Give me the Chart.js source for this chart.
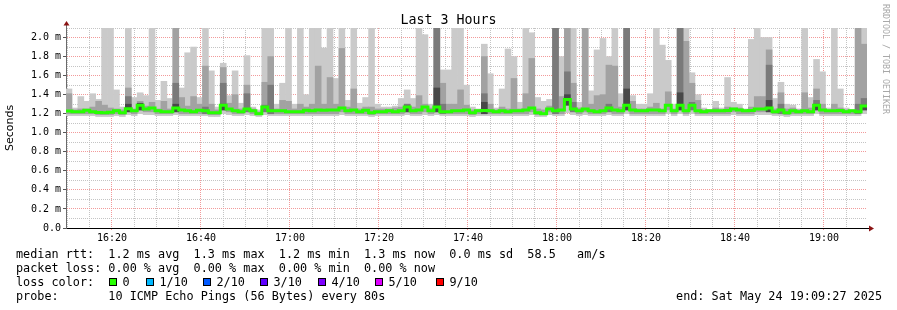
<!DOCTYPE html>
<html>
<head>
<meta charset="utf-8">
<title>Last 3 Hours</title>
<script src="https://cdn.jsdelivr.net/npm/chart.js@4.4.1/dist/chart.umd.min.js"></script>
<style>
    html, body { margin: 0; padding: 0; background: #fff; }
    #wrap { position: relative; width: 897px; height: 310px; overflow: hidden; font-family: 'DejaVu Sans Mono', monospace; color: #000; }
    #pingChart { position: absolute; left: 0; top: 0; }
    .txt { position: absolute; white-space: pre; font-size: 11.8px; line-height: 14px; }
    #title { position: absolute; left: 0; top: 12px; width: 897px; text-align: center; font-size: 13.3px; line-height: 16px; }
    #credit { position: absolute; left: 881px; top: 4px; writing-mode: vertical-rl; font-size: 8.3px; color: #a8a8a8; white-space: pre; }
    .swatch { position: absolute; width: 8px; height: 8px; box-sizing: border-box; border: 1px solid #000; }
</style>
</head>
<body>
<div id="wrap">
    <canvas id="pingChart" width="897" height="310"></canvas>
    <div id="title">Last 3 Hours</div>
    <div id="credit">RRDTOOL / TOBI OETIKER</div>
    <div class="txt" style="left:16px;top:247px">median rtt:  1.2 ms avg  1.3 ms max  1.2 ms min  1.3 ms now  0.0 ms sd  58.5   am/s</div>
    <div class="txt" style="left:16px;top:261px">packet loss: 0.00 % avg  0.00 % max  0.00 % min  0.00 % now</div>
    <div class="txt" style="left:16px;top:275px">loss color:</div>
    <div id="lossLegend"></div>
    <div class="txt" style="left:16px;top:289px">probe:       10 ICMP Echo Pings (56 Bytes) every 80s</div>
    <div class="txt" style="right:15px;top:289px">end: Sat May 24 19:09:27 2025</div>
</div>
<script>
'use strict';

// 135 samples, 80 s apart, starting 16:09:40 (values in ms)
const median = [
    1.228, 1.22, 1.22, 1.236, 1.22, 1.214, 1.21, 1.215, 1.23, 1.21,
    1.253, 1.23, 1.29, 1.25, 1.26, 1.23, 1.22, 1.22, 1.26, 1.24,
    1.23, 1.22, 1.236, 1.23, 1.21, 1.21, 1.29, 1.25, 1.23, 1.22,
    1.25, 1.23, 1.20, 1.27, 1.23, 1.23, 1.23, 1.22, 1.22, 1.22,
    1.236, 1.23, 1.24, 1.236, 1.24, 1.24, 1.26, 1.23, 1.24, 1.22,
    1.236, 1.21, 1.22, 1.22, 1.23, 1.22, 1.23, 1.27, 1.23, 1.24,
    1.27, 1.23, 1.27, 1.22, 1.22, 1.23, 1.23, 1.24, 1.21, 1.23,
    1.235, 1.23, 1.22, 1.23, 1.22, 1.23, 1.23, 1.24, 1.26, 1.21,
    1.20, 1.25, 1.23, 1.24, 1.35, 1.25, 1.23, 1.25, 1.23, 1.22,
    1.23, 1.26, 1.24, 1.23, 1.29, 1.24, 1.23, 1.23, 1.24, 1.24,
    1.23, 1.29, 1.23, 1.29, 1.23, 1.29, 1.23, 1.22, 1.23, 1.23,
    1.23, 1.235, 1.25, 1.24, 1.23, 1.235, 1.25, 1.25, 1.26, 1.22,
    1.24, 1.21, 1.23, 1.22, 1.23, 1.22, 1.29, 1.24, 1.23, 1.23,
    1.235, 1.22, 1.23, 1.22, 1.28
];

const pingMin = [
    1.18, 1.18, 1.18, 1.18, 1.18, 1.17, 1.17, 1.17, 1.18, 1.17,
    1.19, 1.18, 1.20, 1.19, 1.19, 1.18, 1.18, 1.18, 1.19, 1.18,
    1.18, 1.18, 1.18, 1.18, 1.17, 1.17, 1.20, 1.19, 1.18, 1.18,
    1.19, 1.18, 1.17, 1.19, 1.18, 1.18, 1.18, 1.18, 1.18, 1.18,
    1.18, 1.18, 1.18, 1.18, 1.18, 1.18, 1.19, 1.18, 1.18, 1.18,
    1.18, 1.17, 1.18, 1.18, 1.18, 1.18, 1.18, 1.19, 1.18, 1.18,
    1.19, 1.18, 1.19, 1.18, 1.18, 1.18, 1.18, 1.18, 1.17, 1.18,
    1.18, 1.18, 1.18, 1.18, 1.18, 1.18, 1.18, 1.18, 1.19, 1.17,
    1.17, 1.19, 1.18, 1.18, 1.21, 1.19, 1.18, 1.19, 1.18, 1.18,
    1.18, 1.19, 1.18, 1.18, 1.20, 1.18, 1.18, 1.18, 1.18, 1.18,
    1.18, 1.20, 1.18, 1.20, 1.18, 1.20, 1.18, 1.18, 1.18, 1.18,
    1.18, 1.18, 1.19, 1.18, 1.18, 1.18, 1.19, 1.19, 1.19, 1.18,
    1.18, 1.17, 1.18, 1.18, 1.18, 1.18, 1.20, 1.18, 1.18, 1.18,
    1.18, 1.18, 1.18, 1.18, 1.20
];

const pingLow = [
    1.20, 1.20, 1.20, 1.20, 1.20, 1.19, 1.19, 1.19, 1.20, 1.19,
    1.22, 1.20, 1.24, 1.22, 1.22, 1.20, 1.20, 1.20, 1.22, 1.20,
    1.20, 1.20, 1.20, 1.20, 1.19, 1.19, 1.24, 1.22, 1.20, 1.20,
    1.22, 1.20, 1.19, 1.22, 1.20, 1.20, 1.20, 1.20, 1.20, 1.20,
    1.20, 1.20, 1.20, 1.20, 1.20, 1.20, 1.22, 1.20, 1.20, 1.20,
    1.20, 1.19, 1.20, 1.20, 1.20, 1.20, 1.20, 1.22, 1.20, 1.20,
    1.22, 1.20, 1.22, 1.20, 1.20, 1.20, 1.20, 1.20, 1.19, 1.20,
    1.20, 1.20, 1.20, 1.20, 1.20, 1.20, 1.20, 1.20, 1.22, 1.19,
    1.19, 1.22, 1.20, 1.20, 1.29, 1.22, 1.20, 1.22, 1.20, 1.20,
    1.20, 1.22, 1.20, 1.20, 1.24, 1.20, 1.20, 1.20, 1.20, 1.20,
    1.20, 1.24, 1.20, 1.24, 1.20, 1.24, 1.20, 1.20, 1.20, 1.20,
    1.20, 1.20, 1.22, 1.20, 1.20, 1.20, 1.22, 1.22, 1.22, 1.20,
    1.20, 1.19, 1.20, 1.20, 1.20, 1.20, 1.24, 1.20, 1.20, 1.20,
    1.20, 1.20, 1.20, 1.20, 1.24
];

// slowest ping of each round (light smoke)
const pingMax = [
    1.46, 1.26, 1.38, 1.33, 1.41, 1.35, 2.1, 2.1, 1.45, 1.27,
    2.1, 1.37, 1.42, 1.39, 2.1, 1.34, 1.54, 1.36, 2.1, 1.47,
    1.84, 1.90, 1.37, 2.1, 1.65, 1.27, 1.73, 1.39, 1.65, 1.31,
    1.81, 1.27, 1.24, 2.1, 2.1, 1.30, 1.52, 2.1, 1.30, 2.1,
    1.40, 2.1, 2.1, 1.89, 2.1, 1.57, 2.1, 1.34, 2.1, 1.31,
    1.37, 2.1, 1.30, 1.27, 1.27, 1.28, 1.36, 1.45, 1.36, 2.1,
    2.03, 1.30, 2.1, 1.66, 1.66, 2.1, 2.1, 1.50, 1.27, 1.25,
    1.93, 1.62, 1.26, 1.46, 1.88, 1.80, 1.32, 2.1, 2.05, 1.37,
    1.33, 1.35, 2.1, 1.80, 2.1, 2.1, 1.32, 2.1, 1.44, 1.87,
    1.99, 1.80, 2.1, 1.41, 2.1, 1.39, 1.30, 1.30, 1.41, 2.1,
    1.92, 1.76, 1.30, 2.1, 2.1, 1.63, 1.40, 1.26, 1.24, 1.33,
    1.26, 1.58, 1.32, 1.30, 1.25, 1.98, 2.1, 2.0, 2.0, 1.36,
    1.53, 1.30, 1.29, 1.25, 2.1, 1.37, 1.77, 1.64, 1.26, 2.1,
    1.46, 1.26, 1.24, 2.1, 2.1
];

// second band of the smoke (mid grey)
const pingHigh = [
    1.41, 1.24, 1.25, 1.25, 1.27, 1.33, 1.29, 1.26, 1.25, 1.24,
    1.47, 1.25, 1.33, 1.28, 1.32, 1.25, 1.33, 1.25, 2.1, 1.37,
    1.28, 1.38, 1.30, 1.70, 1.30, 1.24, 1.685, 1.31, 1.40, 1.25,
    1.50, 1.25, 1.22, 1.53, 1.80, 1.25, 1.34, 1.33, 1.25, 1.30,
    1.27, 1.30, 1.70, 1.30, 1.58, 1.30, 1.885, 1.27, 1.46, 1.25,
    1.27, 1.27, 1.25, 1.25, 1.25, 1.26, 1.27, 1.30, 1.27, 1.39,
    1.30, 1.26, 2.1, 1.52, 1.30, 1.30, 1.45, 1.29, 1.24, 1.24,
    1.80, 1.30, 1.24, 1.27, 1.25, 1.57, 1.25, 1.41, 1.78, 1.25,
    1.24, 1.28, 2.1, 1.38, 2.1, 1.52, 1.26, 2.1, 1.30, 1.39,
    1.40, 1.71, 1.70, 1.27, 2.1, 1.33, 1.25, 1.25, 1.27, 1.31,
    1.25, 1.43, 1.25, 2.1, 1.96, 1.52, 1.34, 1.24, 1.24, 1.26,
    1.24, 1.27, 1.26, 1.26, 1.24, 1.27, 1.38, 1.38, 1.87, 1.25,
    1.42, 1.25, 1.26, 1.24, 1.42, 1.26, 1.46, 1.30, 1.24, 1.30,
    1.26, 1.24, 1.24, 2.1, 1.93
];

// inner band (dark grey), null where not visible
const pingInner = [
    null, null, null, null, null, null, null, null, null, null,
    1.38, null, 1.30, null, null, null, null, null, 1.52, null,
    null, null, null, 1.27, null, null, 1.52, null, null, null,
    1.41, null, null, 1.29, 1.50, null, null, null, null, null,
    null, null, null, null, null, null, null, null, null, null,
    null, null, null, null, null, null, null, 1.30, null, null,
    null, null, 2.1, 1.30, null, null, null, null, null, null,
    1.41, null, null, null, null, null, null, null, null, null,
    null, null, 2.1, null, 1.64, 1.32, null, null, null, null,
    null, 1.30, null, null, 2.1, null, null, null, null, null,
    null, null, null, 2.1, null, 1.32, null, null, null, null,
    null, null, null, null, null, null, null, null, 1.71, null,
    1.30, null, null, null, null, null, 1.34, null, null, null,
    null, null, null, 1.30, 1.36
];

// pings closest to the median (near black)
const pingCore = [
    null, null, null, null, null, null, null, null, null, null,
    1.30, null, 1.31, null, null, null, null, null, 1.30, null,
    null, null, null, null, null, null, 1.30, null, null, null,
    null, null, null, null, null, null, null, null, null, null,
    null, null, null, null, null, null, null, null, null, null,
    null, null, null, null, null, null, null, 1.28, null, null,
    null, null, 1.47, null, null, null, null, null, null, null,
    1.32, null, null, null, null, null, null, null, null, null,
    null, null, null, null, 1.40, null, null, null, null, null,
    null, null, null, null, 1.46, null, null, null, null, null,
    null, null, null, 1.42, null, null, null, null, null, null,
    null, null, null, null, null, null, null, null, 1.34, null,
    null, null, null, null, null, null, 1.30, null, null, null,
    null, null, null, null, 1.29
];

const timeLabels = ['16:20', '16:40', '17:00', '17:20', '17:40', '18:00', '18:20', '18:40', '19:00'];
const yTickLabels = ['0.0', '0.2 m', '0.4 m', '0.6 m', '0.8 m', '1.0 m', '1.2 m', '1.4 m', '1.6 m', '1.8 m', '2.0 m'];
const lossLabels = ['0', '1/10', '2/10', '3/10', '4/10', '5/10', '9/10'];
const lossColors = ['#26ff00', '#00b8ff', '#0059ff', '#5e00ff', '#7e00ff', '#dd00ff', '#ff0000'];

const START_MIN = 16 * 60 + 9 + 40 / 60;
const STEP_MIN = 80 / 60;
const SPAN_MIN = median.length * STEP_MIN;
const MAJOR_GRID = '#f29a9a';
const MINOR_GRID = '#c4c4c4';

function clockLabel(minutes) {
    const total = Math.round(START_MIN + minutes);
    const h = Math.floor(total / 60);
    const m = total % 60;
    return `${h}:${String(m).padStart(2, '0')}`;
}

function band(lows, highs) {
    return highs
        .map((hi, i) => (hi === null ? null : { x: (i + 0.5) * STEP_MIN, y: [lows[i], hi] }))
        .filter(Boolean);
}

const medianPoints = median.map((v, i) => ({ x: i * STEP_MIN, y: v }));
medianPoints.push({ x: SPAN_MIN, y: median[median.length - 1] });

const gridMinutes = [];
for (let t = 16 * 60 + 10; t < START_MIN + SPAN_MIN; t += 5) {
    gridMinutes.push(t - START_MIN);
}

const axisArrows = {
    id: 'axisArrows',
    afterDraw(chart) {
        const { ctx } = chart;
        const { left, right, top, bottom } = chart.chartArea;
        ctx.save();
        ctx.lineWidth = 1;
        ctx.strokeStyle = '#6a6a6a';
        ctx.beginPath();
        ctx.moveTo(left + 0.5, top - 3);
        ctx.lineTo(left + 0.5, top + 1);
        ctx.stroke();
        ctx.strokeStyle = '#000';
        ctx.beginPath();
        ctx.moveTo(right - 1, bottom + 0.5);
        ctx.lineTo(right + 3, bottom + 0.5);
        ctx.stroke();
        ctx.fillStyle = '#8b1414';
        ctx.beginPath();
        ctx.moveTo(left + 0.5, top - 7);
        ctx.lineTo(left - 2.5, top - 2.5);
        ctx.lineTo(left + 3.5, top - 2.5);
        ctx.closePath();
        ctx.fill();
        ctx.beginPath();
        ctx.moveTo(right + 7, bottom + 0.5);
        ctx.lineTo(right + 2, bottom - 2.5);
        ctx.lineTo(right + 2, bottom + 3.5);
        ctx.closePath();
        ctx.fill();
        ctx.restore();
    }
};

function buildLossLegend() {
    const holder = document.getElementById('lossLegend');
    const swatchX = [109, 146, 203, 260, 318, 375, 436];
    lossLabels.forEach((label, i) => {
        const box = document.createElement('div');
        box.className = 'swatch';
        box.style.left = `${swatchX[i]}px`;
        box.style.top = '278px';
        box.style.background = lossColors[i];
        holder.appendChild(box);

        const text = document.createElement('div');
        text.className = 'txt';
        text.style.left = `${swatchX[i] + 13.5}px`;
        text.style.top = '275px';
        text.textContent = label;
        holder.appendChild(text);
    });
}

function drawChart() {
    const ctx = document.getElementById('pingChart').getContext('2d');
    const monoSmall = { family: 'DejaVu Sans Mono', size: 10 };

    new Chart(ctx, {
        type: 'bar',
        data: {
            datasets: [
                {
                    type: 'line',
                    data: medianPoints,
                    borderColor: '#26ff00',
                    borderWidth: 3,
                    stepped: true,
                    pointRadius: 0,
                    borderJoinStyle: 'miter',
                    borderCapStyle: 'butt',
                    order: 0
                },
                { data: band(pingLow, pingCore), backgroundColor: '#484848', order: 1 },
                { data: band(pingLow, pingInner), backgroundColor: '#7a7a7a', order: 2 },
                { data: band(pingLow, pingHigh), backgroundColor: '#a2a2a2', order: 3 },
                { data: band(pingMin, pingMax), backgroundColor: '#cacaca', order: 4 }
            ]
        },
        options: {
            responsive: false,
            animation: false,
            events: [],
            layout: { padding: { top: 28, right: 30, left: 0, bottom: 0 } },
            datasets: {
                bar: { grouped: false, barPercentage: 1, categoryPercentage: 1, borderWidth: 0 }
            },
            plugins: {
                legend: { display: false },
                tooltip: { enabled: false },
                title: { display: false }
            },
            scales: {
                x: {
                    type: 'linear',
                    min: 0,
                    max: SPAN_MIN,
                    offset: false,
                    z: 1,
                    afterBuildTicks(scale) {
                        scale.ticks = gridMinutes.map((value) => ({ value }));
                    },
                    afterFit(scale) {
                        scale.height = 82;
                    },
                    grid: {
                        offset: false,
                        lineWidth: 1,
                        color: (c) => (timeLabels.includes(clockLabel(c.tick.value)) ? MAJOR_GRID : MINOR_GRID),
                        tickColor: (c) => (timeLabels.includes(clockLabel(c.tick.value)) ? MAJOR_GRID : 'rgba(0,0,0,0)'),
                        tickLength: 3,
                        tickBorderDash: [1, 1]
                    },
                    border: { display: true, color: '#000', dash: [1, 1] },
                    ticks: {
                        autoSkip: false,
                        maxRotation: 0,
                        padding: 1,
                        color: '#000',
                        font: monoSmall,
                        callback(value) {
                            const label = clockLabel(value);
                            return timeLabels.includes(label) ? label : '';
                        }
                    }
                },
                y: {
                    min: 0,
                    max: 2.1,
                    z: 1,
                    afterBuildTicks(scale) {
                        const ticks = [];
                        for (let k = 0; k <= 21; k += 1) {
                            ticks.push({ value: k / 10 });
                        }
                        scale.ticks = ticks;
                    },
                    afterFit(scale) {
                        scale.width = 66;
                    },
                    grid: {
                        lineWidth: 1,
                        color: (c) => (Math.round(c.tick.value * 10) % 2 === 0 ? MAJOR_GRID : MINOR_GRID),
                        tickColor: (c) => (Math.round(c.tick.value * 10) % 2 === 0 ? '#555' : 'rgba(0,0,0,0)'),
                        tickLength: 3
                    },
                    border: { display: true, color: '#6a6a6a', dash: [1, 1] },
                    title: {
                        display: true,
                        text: 'Seconds',
                        color: '#000',
                        font: { family: 'DejaVu Sans', size: 11 },
                        padding: { top: 4, bottom: 0 }
                    },
                    ticks: {
                        autoSkip: false,
                        padding: 2,
                        color: '#000',
                        font: monoSmall,
                        callback(value) {
                            const k = Math.round(value * 10);
                            return k % 2 === 0 ? yTickLabels[k / 2] : '';
                        }
                    }
                }
            }
        },
        plugins: [axisArrows]
    });
}

buildLossLegend();
drawChart();
</script>
</body>
</html>
